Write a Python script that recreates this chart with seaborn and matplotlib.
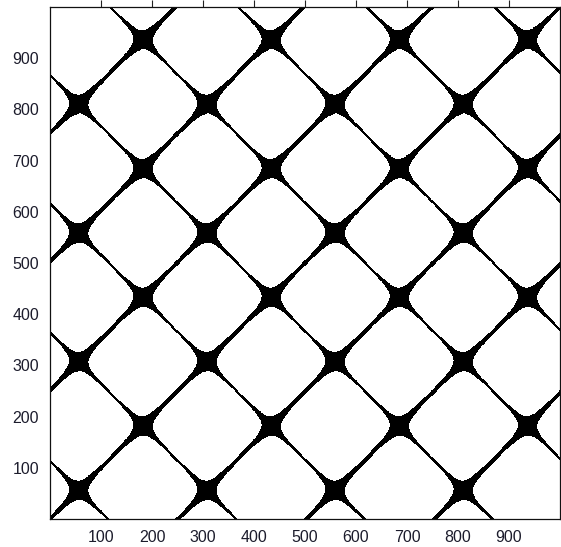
import numpy as np
import pandas as pd
import matplotlib
matplotlib.use("Agg")
import matplotlib.pyplot as plt
import seaborn as sns

# image size (pixels) and the lattice of diagonal lines
n_pix = 1000
period = 251.3          # spacing of parallel diagonals (along x)
offset_up = 0.0         # lines x - y = offset_up + k*period
offset_down = 114.0     # lines x + y = offset_down + k*period
thresh = 0.068          # level for black
skew = 0.85             # makes the "\" lines thinner than the "/" lines

tick_vals = [100, 200, 300, 400, 500, 600, 700, 800, 900]

px = np.arange(1, n_pix + 1)
X, Y = np.meshgrid(px, px)
a = np.abs(np.sin(np.pi * (X - Y - offset_up) / period))
b = np.abs(np.sin(np.pi * (X + Y - offset_down) / period))
img = (a * b ** skew >= thresh).astype(float)

df = pd.DataFrame(img, index=px, columns=px)

sns.set_style("white")
plt.rcParams['font.family'] = ['Liberation Sans', 'DejaVu Sans']

fig = plt.figure(figsize=(5.61, 5.47), dpi=100)
ax = fig.add_axes([50 / 561, 28 / 547, 510 / 561, 512 / 547])
sns.heatmap(df, ax=ax, cmap="gray", vmin=0, vmax=1, cbar=False,
            xticklabels=False, yticklabels=False, rasterized=True)
ax.invert_yaxis()

ax.set_xticks(tick_vals)
ax.set_yticks(tick_vals)
ax.set_xticklabels(tick_vals)
ax.set_yticklabels(tick_vals, rotation=0)
ax.set_xlabel("")
ax.set_ylabel("")
ax.tick_params(direction="out", length=5, width=0.8, color="#222222",
               top=True, right=True, labelsize=11.5, labelcolor="#1c1c2c",
               pad=3)
for lbl in ax.get_xticklabels() + ax.get_yticklabels():
    lbl.set_fontweight("medium")
for s in ax.spines.values():
    s.set_visible(True)
    s.set_color("#111111")
    s.set_linewidth(0.9)

fig.savefig("out.png", dpi=100)
